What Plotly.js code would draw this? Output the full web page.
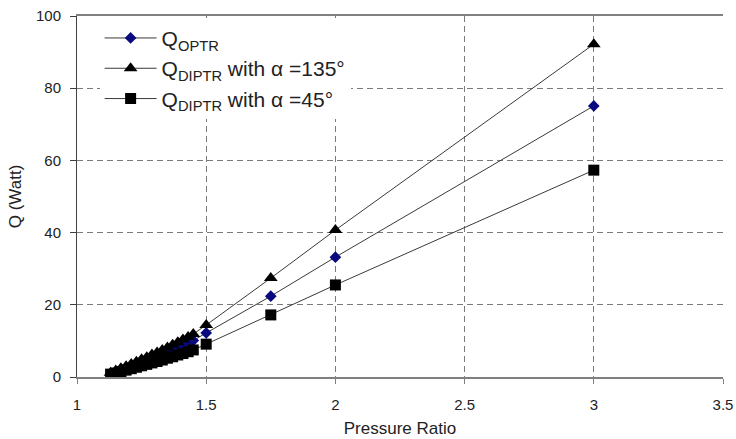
<!DOCTYPE html>
<html>
<head>
<meta charset="utf-8">
<script src="https://cdn.plot.ly/plotly-3.0.1.min.js"></script>
<style>html,body{margin:0;padding:0;background:#fff;}#chart{width:736px;height:439px;}</style>
</head>
<body>
<div id="chart"></div>
<script>
const pressureRatio = [1.13,1.15,1.17,1.19,1.21,1.23,1.25,1.27,1.29,1.31,1.33,1.35,1.37,1.39,1.41,1.43,1.45,1.5,1.75,2,3];
const qOPTR = [1.0,1.5,2.0,2.5,3.0,3.6,4.1,4.7,5.2,5.8,6.3,6.9,7.5,8.1,8.8,9.4,10.1,12.2,22.4,33.2,75.1];
const qDIPTR135 = [1.2,1.8,2.4,3.0,3.6,4.2,4.9,5.5,6.2,6.8,7.5,8.2,8.9,9.6,10.4,11.1,11.9,14.4,27.4,40.7,92.2];
const qDIPTR45 = [0.8,1.1,1.5,1.9,2.3,2.7,3.1,3.5,3.9,4.3,4.7,5.2,5.6,6.1,6.5,7.0,7.5,9.1,17.2,25.5,57.3];
const seriesNames = ['Q<sub>OPTR</sub>', 'Q<sub>DIPTR</sub> with α =135°', 'Q<sub>DIPTR</sub> with α =45°'];
const xTicks = [1,1.5,2,2.5,3,3.5];
const yTicks = [0,20,40,60,80,100];

const lineStyle = {color:'#3a3a3a', width:1};
const traces = [
  {x:pressureRatio, y:qOPTR, name:seriesNames[0], mode:'lines+markers', line:lineStyle,
   marker:{symbol:'diamond', size:9, color:'#0a0a80', line:{width:0}}},
  {x:pressureRatio, y:qDIPTR135, name:seriesNames[1], mode:'lines+markers', line:lineStyle,
   marker:{symbol:'triangle-up', size:12, color:'#000', line:{width:0}}},
  {x:pressureRatio, y:qDIPTR45, name:seriesNames[2], mode:'lines+markers', line:lineStyle,
   marker:{symbol:'square', size:11, color:'#000', line:{width:0}}}
];

const font = {family:'"Liberation Sans", Arial, sans-serif', color:'#222'};
const layout = {
  width:736, height:439,
  margin:{l:77, r:13, t:16, b:62},
  paper_bgcolor:'#fff', plot_bgcolor:'#fff',
  font: Object.assign({size:15}, font),
  showlegend:true,
  legend:{x:0.035, y:0.995, xanchor:'left', yanchor:'top', bgcolor:'#fff',
          font:Object.assign({size:21}, font), tracegroupgap:0, itemwidth:52},
  xaxis:{range:[1,3.5], tickvals:xTicks, ticktext:xTicks.map(String),
         showgrid:true, gridcolor:'#7a7a7a', griddash:'6px,4px', gridwidth:1,
         showline:true, linecolor:'#808080', linewidth:2, mirror:true,
         ticks:'outside', ticklen:5, tickcolor:'#808080', zeroline:false,
         ticklabelstandoff:8, automargin:false,
         tickfont:Object.assign({size:15}, font),
         title:{text:'Pressure Ratio', font:Object.assign({size:17}, font), standoff:10}},
  yaxis:{range:[0,100], tickvals:yTicks, ticktext:yTicks.map(String),
         showgrid:true, gridcolor:'#7a7a7a', griddash:'6px,4px', gridwidth:1,
         showline:true, linecolor:'#404040', linewidth:1,
         ticks:'outside', ticklen:6, tickcolor:'#404040', zeroline:false,
         ticklabelstandoff:6,
         tickfont:Object.assign({size:15}, font),
         title:{text:'Q (Watt)', font:Object.assign({size:17}, font), standoff:10}}
};
Plotly.newPlot('chart', traces, layout, {staticPlot:true, displayModeBar:false});
</script>
</body>
</html>
